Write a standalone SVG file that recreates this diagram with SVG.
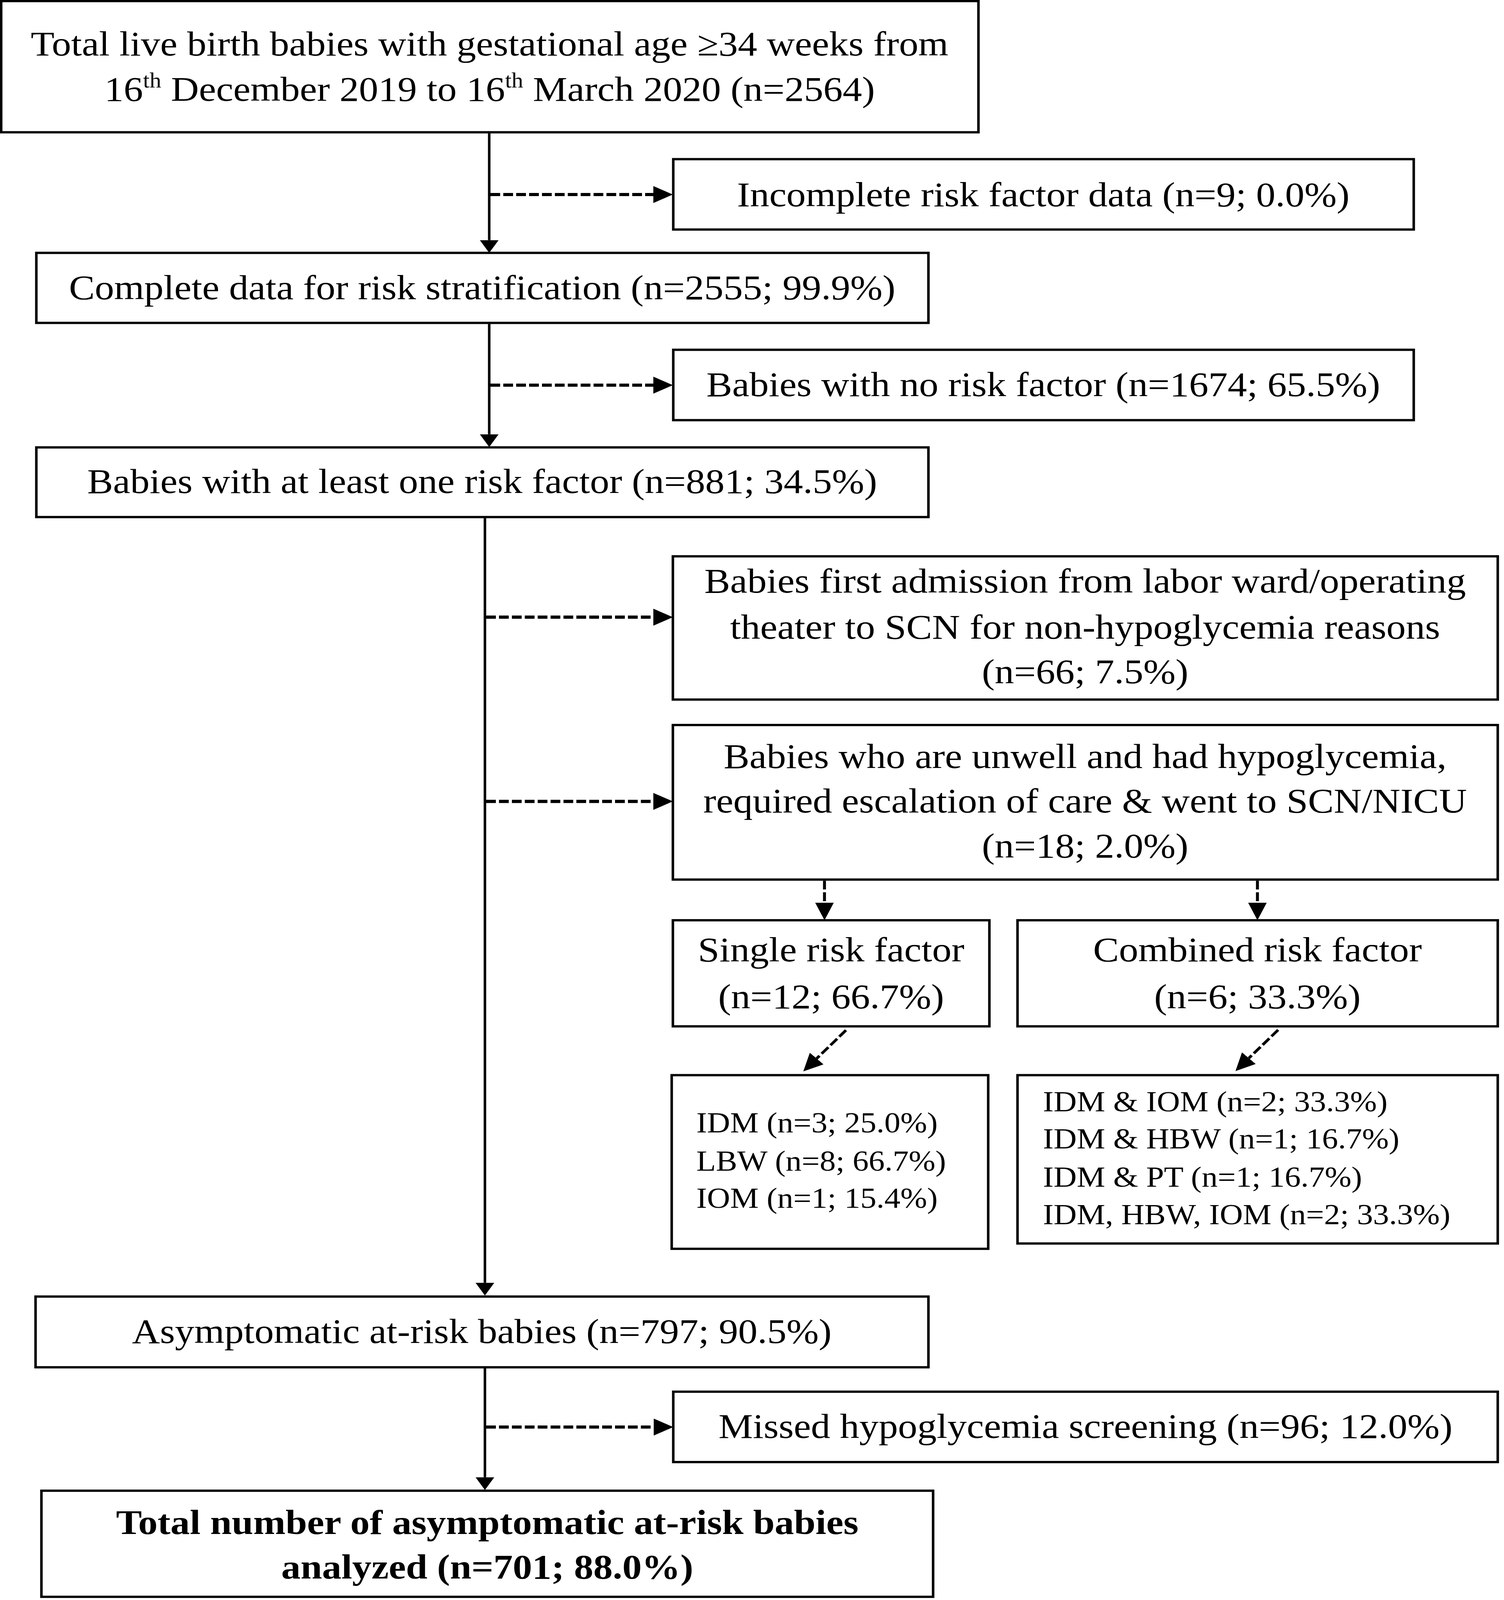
<svg xmlns="http://www.w3.org/2000/svg" width="3849" height="4524" viewBox="0 0 3849 4524" preserveAspectRatio="none">
<style>
:root{width:100vw;height:100vh}
.box{fill:#fff;stroke:#000;stroke-width:6.5}
.t{font-family:"Liberation Serif","Times New Roman",serif;font-size:99px;fill:#000;text-anchor:middle}
.l{font-family:"Liberation Serif","Times New Roman",serif;font-size:82px;fill:#000}
.b{font-weight:bold}
.solid{fill:none;stroke:#000;stroke-width:6.5}
.dash{fill:none;stroke:#000;stroke-width:9;stroke-dasharray:25 8}
.dashv{fill:none;stroke:#000;stroke-width:7.5;stroke-dasharray:25 8}
</style>
<defs>
<marker id="as" viewBox="0 0 36 48" refX="0" refY="24" markerWidth="36" markerHeight="48" markerUnits="userSpaceOnUse" orient="auto"><path d="M0,0 L36,24 L0,48 z" fill="#000"/></marker>
<marker id="ad" viewBox="0 0 50 48" refX="0" refY="24" markerWidth="50" markerHeight="48" markerUnits="userSpaceOnUse" orient="auto"><path d="M0,0 L50,24 L0,48 z" fill="#000"/></marker>
</defs>
<rect width="3849" height="4524" fill="#fff"/>
<g id="connectors">
<path class="solid" d="M1252,377 V679" marker-end="url(#as)"/>
<path class="solid" d="M1252,916 V1228" marker-end="url(#as)"/>
<path class="solid" d="M1241,1465 V3627" marker-end="url(#as)"/>
<path class="solid" d="M1241,3869 V4177" marker-end="url(#as)"/>
<path class="dash" d="M1255,550 H1672" marker-end="url(#ad)"/>
<path class="dash" d="M1255,1089 H1672" marker-end="url(#ad)"/>
<path class="dash" d="M1244,1745 H1672" marker-end="url(#ad)"/>
<path class="dash" d="M1244,2266 H1672" marker-end="url(#ad)"/>
<path class="dash" d="M1244,4035 H1673" marker-end="url(#ad)"/>
<path class="dashv" d="M2110,2490 V2552" marker-end="url(#ad)"/>
<path class="dashv" d="M3218,2490 V2552" marker-end="url(#ad)"/>
<path class="dashv" d="M2165,2913 L2090,2993" marker-end="url(#ad)"/>
<path class="dashv" d="M3271,2912 L3196,2992" marker-end="url(#ad)"/>
</g>
<g id="n-total">
<rect class="box" x="3" y="3" width="2501" height="371"/>
<text class="t" x="1253" y="157">Total live birth babies with gestational age ≥34 weeks from</text>
<text class="t" x="1253" y="285">16<tspan font-size="60" dy="-38">th</tspan><tspan dy="38"> December 2019 to 16</tspan><tspan font-size="60" dy="-38">th</tspan><tspan dy="38"> March 2020 (n=2564)</tspan></text>
</g>
<g id="n-incomplete">
<rect class="box" x="1723" y="450" width="1895" height="199"/>
<text class="t" x="2670" y="583">Incomplete risk factor data (n=9; 0.0%)</text>
</g>
<g id="n-complete">
<rect class="box" x="93" y="715" width="2283" height="198"/>
<text class="t" x="1234" y="846">Complete data for risk stratification (n=2555; 99.9%)</text>
</g>
<g id="n-norisk">
<rect class="box" x="1723" y="989" width="1895" height="199"/>
<text class="t" x="2670" y="1120">Babies with no risk factor (n=1674; 65.5%)</text>
</g>
<g id="n-atleast">
<rect class="box" x="93" y="1265" width="2283" height="197"/>
<text class="t" x="1234" y="1394">Babies with at least one risk factor (n=881; 34.5%)</text>
</g>
<g id="n-admission">
<rect class="box" x="1722" y="1573" width="2111" height="405"/>
<text class="t" x="2777" y="1676">Babies first admission from labor ward/operating</text>
<text class="t" x="2777" y="1806">theater to SCN for non-hypoglycemia reasons</text>
<text class="t" x="2777" y="1932">(n=66; 7.5%)</text>
</g>
<g id="n-unwell">
<rect class="box" x="1722" y="2050" width="2111" height="437"/>
<text class="t" x="2777" y="2171">Babies who are unwell and had hypoglycemia,</text>
<text class="t" x="2777" y="2297">required escalation of care &amp; went to SCN/NICU</text>
<text class="t" x="2777" y="2424">(n=18; 2.0%)</text>
</g>
<g id="n-single">
<rect class="box" x="1722" y="2602" width="810" height="300"/>
<text class="t" x="2127" y="2718">Single risk factor</text>
<text class="t" x="2127" y="2851">(n=12; 66.7%)</text>
</g>
<g id="n-combined">
<rect class="box" x="2604" y="2602" width="1229" height="300"/>
<text class="t" x="3218" y="2718">Combined risk factor</text>
<text class="t" x="3218" y="2851">(n=6; 33.3%)</text>
</g>
<g id="n-single-list">
<rect class="box" x="1719" y="3040" width="810" height="491"/>
<text class="l" x="1782" y="3202">IDM (n=3; 25.0%)</text>
<text class="l" x="1782" y="3310">LBW (n=8; 66.7%)</text>
<text class="l" x="1782" y="3415">IOM (n=1; 15.4%)</text>
</g>
<g id="n-combined-list">
<rect class="box" x="2604" y="3040" width="1229" height="476"/>
<text class="l" x="2669" y="3142">IDM &amp; IOM (n=2; 33.3%)</text>
<text class="l" x="2669" y="3247">IDM &amp; HBW (n=1; 16.7%)</text>
<text class="l" x="2669" y="3356">IDM &amp; PT (n=1; 16.7%)</text>
<text class="l" x="2669" y="3461">IDM, HBW, IOM (n=2; 33.3%)</text>
</g>
<g id="n-asymptomatic">
<rect class="box" x="91" y="3666" width="2285" height="200"/>
<text class="t" x="1233" y="3797">Asymptomatic at-risk babies (n=797; 90.5%)</text>
</g>
<g id="n-missed">
<rect class="box" x="1723" y="3935" width="2110" height="199"/>
<text class="t" x="2778" y="4066">Missed hypoglycemia screening (n=96; 12.0%)</text>
</g>
<g id="n-final">
<rect class="box" x="106" y="4215" width="2282" height="300"/>
<text class="t b" x="1247" y="4337">Total number of asymptomatic at-risk babies</text>
<text class="t b" x="1247" y="4463">analyzed (n=701; 88.0%)</text>
</g>
</svg>
